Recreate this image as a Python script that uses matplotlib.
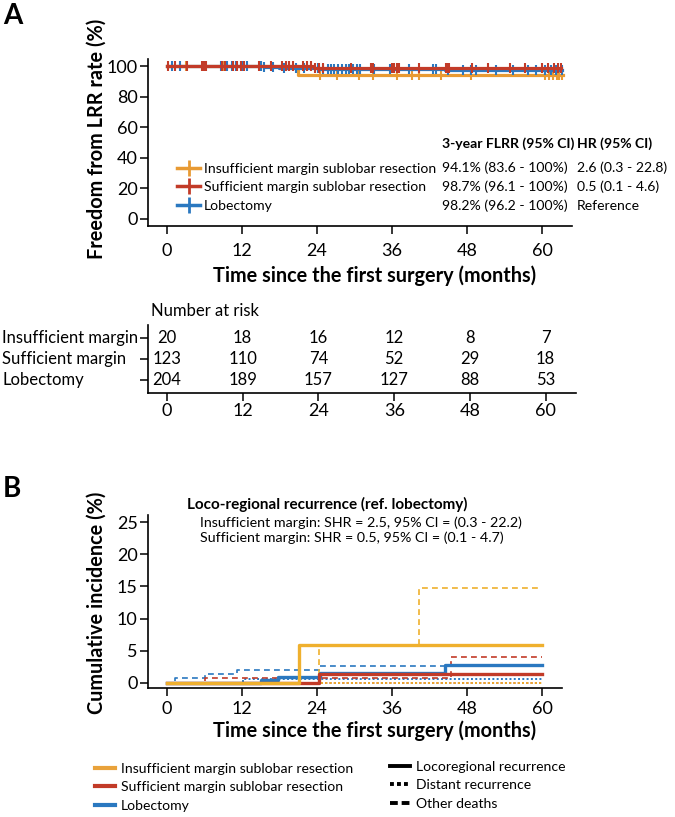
import matplotlib
matplotlib.use('Agg')
import matplotlib.pyplot as plt
from matplotlib.lines import Line2D
import numpy as np

plt.rcParams['font.family'] = ['Lato', 'DejaVu Sans']

# ---------------- data ----------------
month_ticks = [0, 12, 24, 36, 48, 60]
group_names = ['Insufficient margin sublobar resection',
               'Sufficient margin sublobar resection',
               'Lobectomy']
risk_row_labels = ['Insufficient margin', 'Sufficient margin', 'Lobectomy']
flrr_3yr = ['94.1% (83.6 - 100%)', '98.7% (96.1 - 100%)', '98.2% (96.2 - 100%)']
hr_ci = ['2.6 (0.3 - 22.8)', '0.5 (0.1 - 4.6)', 'Reference']

risk_insufficient = [20, 18, 16, 12, 8, 7]
risk_sufficient = [123, 110, 74, 52, 29, 18]
risk_lobectomy = [204, 189, 157, 127, 88, 53]

# Panel A: Kaplan-Meier freedom from LRR (%)
km_t_insuff = [0, 21.0, 63.3]
km_s_insuff = [100, 94.1, 94.1]
km_t_suff = [0, 23.5, 63.0]
km_s_suff = [100, 98.7, 98.7]
km_t_lobe = [0, 15.5, 18.0, 24.5, 44.5, 63.2]
km_s_lobe = [100, 99.5, 99.0, 98.2, 97.2, 97.2]

cens_insuff = [3.0, 9.0, 15.0, 19.5, 24.5, 27.3, 30.8, 33.0, 36.8, 39.2, 40.4,
               43.9, 48.7, 60.5, 61.2, 61.8, 62.4, 62.8, 63.2]
cens_suff = [0.2, 1.3, 3.3, 5.7, 5.9, 6.1, 6.3, 8.9, 9.3, 10.6, 11.2, 11.8, 12.4,
             14.7, 16.6, 18.4, 19.0, 19.6, 20.2, 21.8, 22.4, 23.0, 23.7, 24.4,
             25.0, 29.5, 32.6, 33.0, 36.0, 36.4, 36.8, 37.2, 40.3, 44.6, 44.9,
             45.2, 48.8, 51.3, 54.9, 57.3, 60.0, 61.0, 62.0, 62.6, 63.0]
cens_lobe = [0.8, 2.1, 8.7, 9.6, 10.4, 11.0, 12.0, 12.8, 15.0, 15.6, 17.0, 18.8,
             20.6, 22.0, 24.2, 25.0, 25.8, 26.2, 26.8, 27.4, 28.0, 28.6, 29.2,
             29.8, 30.4, 30.9, 33.2, 35.7, 38.7, 42.6, 43.1, 45.0, 47.4, 48.6,
             49.4, 52.6, 55.3, 57.8, 59.0, 60.5, 61.5, 62.3, 63.2]

# Panel B: cumulative incidence (%)
ci_loco_insuff_t = [0, 21.1, 60];             ci_loco_insuff = [0, 5.9, 5.9]
ci_loco_suff_t = [0, 24.3, 60];               ci_loco_suff = [0, 1.35, 1.35]
ci_loco_lobe_t = [0, 15.0, 17.8, 24.5, 44.5, 60]
ci_loco_lobe = [0, 0.5, 0.9, 1.6, 2.8, 2.8]
ci_dist_insuff_t = [0, 60];                   ci_dist_insuff = [0, 0]
ci_dist_suff_t = [0, 60];                     ci_dist_suff = [0, 0]
ci_dist_lobe_t = [0, 12.2, 60];               ci_dist_lobe = [0, 0.6, 0.6]
ci_oth_insuff_t = [0, 24.3, 40.3, 60];        ci_oth_insuff = [0, 5.9, 14.7, 14.7]
ci_oth_suff_t = [0, 6.1, 45.4, 60];           ci_oth_suff = [0, 0.8, 4.1, 4.1]
ci_oth_lobe_t = [0, 1.3, 6.1, 11.3, 24.5, 60]
ci_oth_lobe = [0, 0.8, 1.4, 2.0, 2.7, 2.7]

shr_title = 'Loco-regional recurrence (ref. lobectomy)'
shr_lines = ['Insufficient margin: SHR = 2.5, 95% CI = (0.3 - 22.2)',
             'Sufficient margin: SHR = 0.5, 95% CI = (0.1 - 4.7)']
event_types = ['Locoregional recurrence', 'Distant recurrence', 'Other deaths']

# ---------------- style ----------------
C_ORA_A = '#E89A33'
C_ORA_B = '#EFB02E'
C_RED = '#C23B28'
C_BLU = '#2A78C0'
TICK_FS = 13
LAB_FS = 14.3
TXT_FS = 10.1

W, H = 675, 817
fig = plt.figure(figsize=(W / 100, H / 100), dpi=100)


def ax_at(l, t, r, b):
    return fig.add_axes([l / W, 1 - b / H, (r - l) / W, (b - t) / H])


def ftext(x, y, s, **kw):
    fig.text(x / W, 1 - y / H, s, **kw)


def style_axes(ax, xpad):
    for s in ['top', 'right']:
        ax.spines[s].set_visible(False)
    for s in ['left', 'bottom']:
        ax.spines[s].set_linewidth(1.2)
    ax.tick_params(direction='out', length=5.5, width=1.1, labelsize=TICK_FS, pad=2)
    ax.tick_params(axis='x', pad=xpad)


def surv_at(times, surv, c):
    idx = np.searchsorted(times, c, side='right') - 1
    return np.asarray(surv)[idx]


# ---------------- Panel A ----------------
ftext(3, 16, 'A', fontsize=20, fontweight='bold', va='center', ha='left')
axA = ax_at(148, 59, 572, 226)
style_axes(axA, 7)
axA.set_xlim(-3, 64.8)
axA.set_ylim(-4.6, 104.6)
axA.set_xticks(month_ticks)
axA.set_yticks([0, 20, 40, 60, 80, 100])

km = [(km_t_insuff, km_s_insuff, cens_insuff, C_ORA_A),
      (km_t_lobe, km_s_lobe, cens_lobe, C_BLU),
      (km_t_suff, km_s_suff, cens_suff, C_RED)]
for t, s, c, col in km:
    axA.step(t, s, where='post', color=col, lw=2.3)
    axA.plot(c, surv_at(t, s, c), ls='none', marker='|', ms=7, mew=1.5, color=col)

ftext(97, 139, 'Freedom from LRR rate (%)', fontsize=LAB_FS, fontweight='bold',
      rotation=90, ha='center', va='center')
ftext(375, 276, 'Time since the first surgery (months)', fontsize=LAB_FS,
      fontweight='bold', ha='center', va='center')

handlesA = [Line2D([], [], color=col, lw=2.5, marker='+', ms=11, mew=2)
            for col in [C_ORA_A, C_RED, C_BLU]]
fig.legend(handlesA, group_names, loc='upper left',
           bbox_to_anchor=(177 / W, 1 - 163 / H), frameon=False,
           fontsize=TXT_FS, handlelength=1.65, handletextpad=0.25,
           labelspacing=0.45, borderpad=0, borderaxespad=0)
COL1, COL2 = 442, 577
ftext(COL1, 144, '3-year FLRR (95% CI)', fontsize=TXT_FS, fontweight='bold', va='center')
ftext(COL2, 144, 'HR (95% CI)', fontsize=TXT_FS, fontweight='bold', va='center')
rowsA = [168, 187, 206]
for i in range(3):
    ftext(COL1, rowsA[i], flrr_3yr[i], fontsize=TXT_FS, va='center')
    ftext(COL2, rowsA[i], hr_ci[i], fontsize=TXT_FS, va='center')

# ---------------- Number at risk ----------------
axT = ax_at(148, 325, 576, 393)
style_axes(axT, 2)
axT.set_xlim(-3, 64.8)
axT.set_ylim(0.38, 3.62)
axT.set_xticks(month_ticks)
axT.set_yticks([3, 2, 1])
axT.set_yticklabels([])
for row, vals in zip([3, 2, 1], [risk_insufficient, risk_sufficient, risk_lobectomy]):
    for t, v in zip(month_ticks, vals):
        axT.text(t, row, str(v), ha='center', va='center', fontsize=12)
ftext(151, 311, 'Number at risk', fontsize=12, va='center')
for y, lab in zip([338, 359, 380], risk_row_labels):
    ftext(2, y, lab, fontsize=12, va='center')

# ---------------- Panel B ----------------
ftext(3, 489, 'B', fontsize=20, fontweight='bold', va='center', ha='left')
axB = ax_at(148, 515, 562, 688)
style_axes(axB, 4)
axB.set_xlim(-3, 63.2)
axB.set_ylim(-0.78, 26.1)
axB.set_xticks(month_ticks)
axB.set_yticks([0, 5, 10, 15, 20, 25])

dotted = (0, (1, 1.2))
dashed = (0, (3.5, 2.5))
series_B = [
    (ci_dist_lobe_t, ci_dist_lobe, C_BLU, dotted, 1.4),
    (ci_dist_suff_t, ci_dist_suff, C_RED, dotted, 1.4),
    (ci_dist_insuff_t, ci_dist_insuff, C_ORA_B, dotted, 1.4),
    (ci_oth_lobe_t, ci_oth_lobe, C_BLU, dashed, 1.2),
    (ci_oth_suff_t, ci_oth_suff, C_RED, dashed, 1.2),
    (ci_oth_insuff_t, ci_oth_insuff, C_ORA_B, dashed, 1.2),
    (ci_loco_lobe_t, ci_loco_lobe, C_BLU, '-', 2.4),
    (ci_loco_suff_t, ci_loco_suff, C_RED, '-', 2.4),
    (ci_loco_insuff_t, ci_loco_insuff, C_ORA_B, '-', 2.4),
]
for t, v, col, ls, lw in series_B:
    axB.step(t, v, where='post', color=col, ls=ls, lw=lw)

ftext(97, 603, 'Cumulative incidence (%)', fontsize=LAB_FS, fontweight='bold',
      rotation=90, ha='center', va='center')
ftext(375, 731, 'Time since the first surgery (months)', fontsize=LAB_FS,
      fontweight='bold', ha='center', va='center')

ftext(187, 504, shr_title, fontsize=11, fontweight='bold', va='center')
ftext(200, 523, shr_lines[0], fontsize=10.3, va='center')
ftext(200, 538, shr_lines[1], fontsize=10.3, va='center')

handlesB1 = [Line2D([], [], color=col, lw=3) for col in ['#E9A23B', C_RED, C_BLU]]
fig.legend(handlesB1, group_names, loc='upper left',
           bbox_to_anchor=(95 / W, 1 - 763 / H), frameon=False,
           fontsize=TXT_FS, handlelength=1.45, handletextpad=0.4,
           labelspacing=0.45, borderpad=0, borderaxespad=0)
handlesB2 = [Line2D([], [], color='black', lw=2.8, ls='-'),
             Line2D([], [], color='black', lw=2.8, ls=(0, (1, 0.8))),
             Line2D([], [], color='black', lw=2.8, ls=(0, (2, 1)))]
fig.legend(handlesB2, event_types, loc='upper left',
           bbox_to_anchor=(390 / W, 1 - 761 / H), frameon=False,
           fontsize=TXT_FS, handlelength=1.45, handletextpad=0.4,
           labelspacing=0.45, borderpad=0, borderaxespad=0)

fig.savefig('out.png', dpi=100)
